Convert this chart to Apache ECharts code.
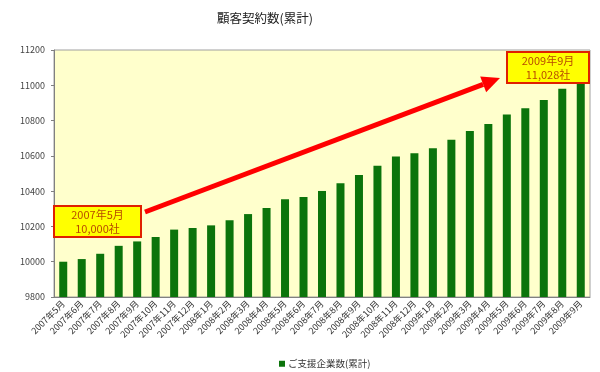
<!DOCTYPE html>
<html><head><meta charset="utf-8">
<script src="https://cdn.jsdelivr.net/npm/echarts@6/dist/echarts.min.js"></script>
<style>html,body{margin:0;padding:0;background:#fff}#c{width:600px;height:372px}</style>
</head><body><div id="c"></div>
<script>
const titleText = '顧客契約数(累計)';
const seriesName = 'ご支援企業数(累計)';
const categories = ['2007年5月','2007年6月','2007年7月','2007年8月','2007年9月','2007年10月','2007年11月','2007年12月',
 '2008年1月','2008年2月','2008年3月','2008年4月','2008年5月','2008年6月','2008年7月','2008年8月','2008年9月','2008年10月','2008年11月','2008年12月',
 '2009年1月','2009年2月','2009年3月','2009年4月','2009年5月','2009年6月','2009年7月','2009年8月','2009年9月'];
const values = [10000,10015,10045,10090,10115,10140,10182,10191,
 10206,10235,10270,10304,10354,10367,10401,10445,10492,10544,10597,10615,
 10643,10692,10741,10781,10835,10870,10917,10981,11028];
const yTicks = {min:9800, max:11200, interval:200};
const note1 = '2007年5月\n10,000社';
const note2 = '2009年9月\n11,028社';

const font = '"Noto Sans CJK JP", sans-serif';
const chart = echarts.init(document.getElementById('c'));
const tip = [500, 78], start = [145, 212];
const dx = tip[0]-start[0], dy = tip[1]-start[1], L = Math.hypot(dx,dy);
const ux = dx/L, uy = dy/L, nx = -uy, ny = ux;
const hl = 18, hw = 8.5;
const bx = tip[0]-ux*hl, by = tip[1]-uy*hl;
chart.setOption({
  animation:false,
  backgroundColor:'#fff',
  title:{text:titleText,left:260,top:7,textAlign:'center',textStyle:{fontFamily:font,fontSize:12.5,fontWeight:'normal',color:'#222'}},
  grid:{left:54,right:10,top:50,bottom:75,show:true,backgroundColor:'#ffffcc',borderColor:'#a0a0a0',borderWidth:1},
  legend:{data:[seriesName],left:274,top:354,itemWidth:6,itemHeight:6,itemGap:4,icon:'rect',
    textStyle:{fontFamily:font,fontSize:9.5,color:'#333',padding:[0,0,0,-2]}},
  xAxis:{type:'category',data:categories,
    axisLine:{lineStyle:{color:'#808080'}},axisTick:{show:false},
    axisLabel:{rotate:45,fontSize:9,fontFamily:font,color:'#333',interval:0,margin:5}},
  yAxis:{type:'value',min:yTicks.min,max:yTicks.max,interval:yTicks.interval,
    axisLine:{show:true,lineStyle:{color:'#808080'}},axisTick:{show:true,length:3,lineStyle:{color:'#808080'}},
    splitLine:{show:false},
    axisLabel:{fontSize:9,fontFamily:font,color:'#444',margin:9,formatter:v=>String(v)}},
  series:[{name:seriesName,type:'bar',data:values,barWidth:8,itemStyle:{color:'#0b740b'}}],
  graphic:[
    {type:'line',shape:{x1:start[0],y1:start[1],x2:bx,y2:by},style:{stroke:'#ff0000',lineWidth:5},z:100},
    {type:'polygon',shape:{points:[[tip[0],tip[1]],[bx+nx*hw,by+ny*hw],[bx-nx*hw,by-ny*hw]]},style:{fill:'#ff0000'},z:100},
    {type:'rect',shape:{x:54,y:206,width:87,height:31},style:{fill:'#ffff00',stroke:'#e02000',lineWidth:2},z:101},
    {type:'text',x:97.5,y:221.5,style:{text:note1,fill:'#b84a00',font:'11px '+font,align:'center',verticalAlign:'middle',lineHeight:14},z:102},
    {type:'rect',shape:{x:507,y:52,width:82,height:31},style:{fill:'#ffff00',stroke:'#e02000',lineWidth:2},z:101},
    {type:'text',x:548,y:67.5,style:{text:note2,fill:'#b84a00',font:'11px '+font,align:'center',verticalAlign:'middle',lineHeight:14},z:102}
  ]
});
</script></body></html>
